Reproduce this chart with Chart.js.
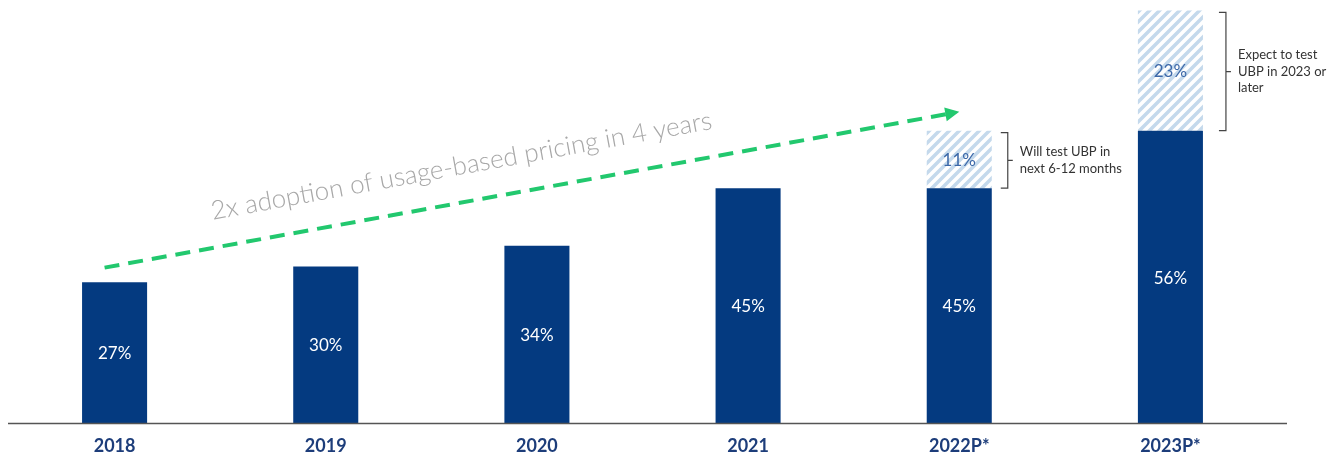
<!DOCTYPE html>
<html lang="en">
<head>
<meta charset="UTF-8">
<title>Usage-based pricing adoption</title>
<script src="https://cdn.jsdelivr.net/npm/chart.js@4.4.1/dist/chart.umd.min.js"></script>
<style>
html, body {margin:0; padding:0; background:#fff;}
#wrap {width:1344px; height:455px;}
</style>
</head>
<body>
<div id="wrap"><canvas id="ubpChart" width="1344" height="455"></canvas></div>
<script>
// data
var years = ['2018', '2019', '2020', '2021', '2022P*', '2023P*'];
var adopted = [27, 30, 34, 45, 45, 56];
var planned = [null, null, null, null, 11, 23];
var notes = [null, null, null, null,
  ['Will test UBP in', 'next 6-12 months'],
  ['Expect to test', 'UBP in 2023 or', 'later']];
var arrowLabel = '2x adoption of usage-based pricing in 4 years';

var navy = '#043a80';

// light blue stripes for the planned part
function stripes() {
  var c = document.createElement('canvas');
  c.width = 10; c.height = 10;
  var g = c.getContext('2d');
  g.fillStyle = '#ffffff';
  g.fillRect(0, 0, 10, 10);
  g.strokeStyle = '#c4d9ec';
  g.lineWidth = 3.5;
  g.beginPath();
  g.moveTo(-5, 5); g.lineTo(5, -5);
  g.moveTo(0, 10); g.lineTo(10, 0);
  g.moveTo(5, 15); g.lineTo(15, 5);
  g.stroke();
  return g.createPattern(c, 'repeat');
}

var extras = {
  id: 'extras',
  afterDatasetsDraw: function(chart) {
    var ctx = chart.ctx;
    var area = chart.chartArea;
    var xs = chart.scales.x, ys = chart.scales.y;
    ctx.save();

    // baseline
    ctx.strokeStyle = '#555';
    ctx.lineWidth = 1.5;
    ctx.beginPath();
    ctx.moveTo(8, area.bottom);
    ctx.lineTo(1287, area.bottom);
    ctx.stroke();

    // values inside the bars
    ctx.textAlign = 'center';
    ctx.textBaseline = 'middle';
    chart.data.datasets.forEach(function(ds, di) {
      var meta = chart.getDatasetMeta(di);
      meta.data.forEach(function(el, i) {
        if (ds.data[i] == null) return;
        ctx.fillStyle = di == 0 ? '#ffffff' : '#3c68a8';
        ctx.font = '17px Lato';
        ctx.fillText(ds.data[i] + '%', el.x, (el.y + el.base) / 2 + 1);
      });
    });

    // brackets and notes next to planned parts
    var gaps = [0, 0, 0, 0, 16, 23];
    var meta1 = chart.getDatasetMeta(1);
    meta1.data.forEach(function(el, i) {
      if (!notes[i]) return;
      var bx = el.x + el.width / 2 + gaps[i];
      var top = el.y + 2, bot = el.base;
      var mid = (top + bot) / 2;
      ctx.strokeStyle = '#444';
      ctx.lineWidth = 1.2;
      ctx.beginPath();
      ctx.moveTo(bx - 7, top); ctx.lineTo(bx, top);
      ctx.lineTo(bx, bot); ctx.lineTo(bx - 7, bot);
      ctx.moveTo(bx, mid); ctx.lineTo(bx + 5, mid);
      ctx.stroke();
      ctx.fillStyle = '#333';
      ctx.font = '13px Lato';
      ctx.textAlign = 'left';
      var lh = 16.5;
      var y0 = mid - (notes[i].length - 1) * lh / 2;
      notes[i].forEach(function(t, k) {
        ctx.fillText(t, bx + 12, y0 + k * lh);
      });
    });

    // green dashed trend arrow
    var x1 = xs.getPixelForValue(0) - 10, y1 = ys.getPixelForValue(29.8);
    var x2 = xs.getPixelForValue(4), y2 = ys.getPixelForValue(59.6);
    var ang = Math.atan2(y2 - y1, x2 - x1);
    var len = Math.hypot(x2 - x1, y2 - y1);
    ctx.translate(x1, y1);
    ctx.rotate(ang);
    ctx.strokeStyle = '#22c86e';
    ctx.fillStyle = '#22c86e';
    ctx.lineWidth = 4;
    ctx.setLineDash([15, 9]);
    ctx.beginPath();
    ctx.moveTo(0, 0);
    ctx.lineTo(len - 12, 0);
    ctx.stroke();
    ctx.setLineDash([]);
    ctx.beginPath();
    ctx.moveTo(len, 0);
    ctx.lineTo(len - 14, -7);
    ctx.lineTo(len - 14, 7);
    ctx.closePath();
    ctx.fill();

    // label above the arrow
    ctx.fillStyle = '#a8a8a8';
    ctx.font = '300 26px Lato';
    ctx.textAlign = 'center';
    ctx.textBaseline = 'middle';
    ctx.fillText(arrowLabel, len * 0.425, -36);
    ctx.restore();
  }
};

new Chart('ubpChart', {
  type: 'bar',
  data: {
    labels: years,
    datasets: [
      {label: 'Uses UBP', data: adopted, backgroundColor: navy, stack: 's'},
      {label: 'Plans to test UBP', data: planned, backgroundColor: stripes(), stack: 's'}
    ]
  },
  options: {
    responsive: false,
    animation: false,
    barPercentage: 0.308,
    categoryPercentage: 1,
    layout: {padding: {left: 9, right: 68, top: 0, bottom: -14}},
    plugins: {legend: {display: false}, tooltip: {enabled: false}},
    scales: {
      x: {
        stacked: true,
        grid: {display: false, drawTicks: false},
        border: {display: false},
        ticks: {color: '#1d3d7a', font: {family: 'Lato', size: 18, weight: 'bold'}, padding: 12}
      },
      y: {stacked: true, display: false, min: 0, max: 81}
    }
  },
  plugins: [extras]
});
</script>
</body>
</html>
